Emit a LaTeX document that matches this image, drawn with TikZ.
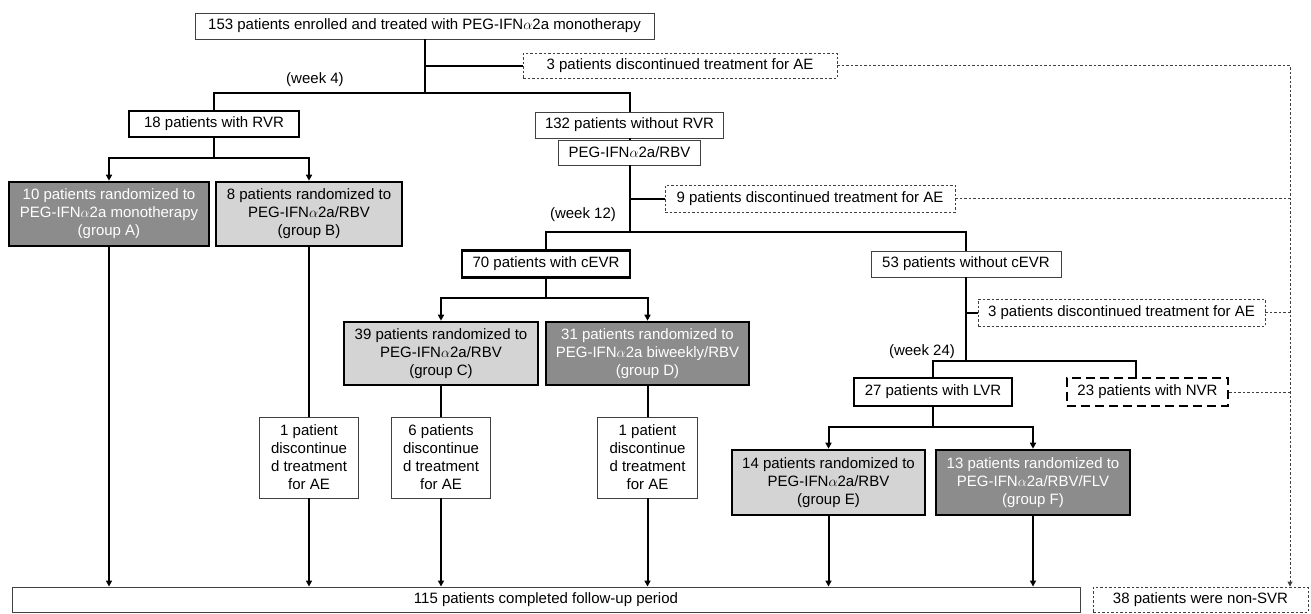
\documentclass[tikz,border=0pt]{standalone}
\usepackage{fontspec}
\setmainfont{Liberation Sans}
\usetikzlibrary{arrows.meta}
\definecolor{dkgray}{gray}{0.55}
\definecolor{ltgray}{gray}{0.83}
\definecolor{edgegray}{gray}{0.25}
\newcommand{\fsz}{\fontsize{15}{18}\selectfont}
\begin{document}
\begin{tikzpicture}[x=1pt,y=-1pt,
  sz/.style 2 args={minimum width=#1pt, minimum height=#2pt},
  box/.style={draw=edgegray, line width=0.9pt, inner sep=0pt, align=center, font=\fsz},
  thickbox/.style={box, draw=black, line width=2.6pt},
  dashbox/.style={box, dash pattern=on 2.5pt off 2pt},
  nvrbox/.style={box, draw=black, line width=2.6pt, dash pattern=on 9pt off 5pt},
  darkfill/.style={fill=dkgray, text=white},
  lightfill/.style={fill=ltgray},
  lbl/.style={inner sep=0pt, font=\fsz},
  conn/.style={draw=black, line width=2pt},
  dconn/.style={draw=edgegray, line width=0.9pt, dash pattern=on 2.5pt off 2pt},
  arr/.style={-{Triangle[length=6pt,width=6pt]}}
]
\useasboundingbox (0,0) rectangle (1311,613);

% nodes
\node[box, sz={459}{26}] (top) at (424.5,26) {153 patients enrolled and treated with PEG-IFN$\alpha$2a monotherapy};
\node[dashbox, sz={314}{25}] (ae1) at (680,65.5) {3 patients discontinued treatment for AE};
\node[lbl] (w4) at (315,80) {(week 4)};
\node[thickbox, sz={170}{26}] (r1) at (214,124) {18 patients with RVR};
\node[box, sz={188}{26}] (nr1) at (629.5,125) {132 patients without RVR};
\node[box, sz={142}{25}] (peg) at (629.5,152.5) {PEG-IFN$\alpha$2a/RBV};
\node[thickbox, darkfill, sz={200}{64}] (gA) at (109,214) {10 patients randomized to\\PEG-IFN$\alpha$2a monotherapy\\(group A)};
\node[thickbox, lightfill, sz={186}{64}] (gB) at (309,214) {8 patients randomized to\\PEG-IFN$\alpha$2a/RBV\\(group B)};
\node[dashbox, sz={290}{27}] (ae2) at (810,198.5) {9 patients discontinued treatment for AE};
\node[lbl] (w12) at (583,215) {(week 12)};
\node[thickbox, sz={168}{27}] (cevr) at (546,264) {70 patients with cEVR};
\node[box, sz={190}{26}] (ncevr) at (966,264) {53 patients without cEVR};
\node[thickbox, lightfill, sz={194}{63}] (gC) at (441,353.5) {39 patients randomized to\\PEG-IFN$\alpha$2a/RBV\\(group C)};
\node[thickbox, darkfill, sz={203}{63}] (gD) at (647.5,353.5) {31 patients randomized to\\PEG-IFN$\alpha$2a biweekly/RBV\\(group D)};
\node[dashbox, sz={287}{27}] (ae3) at (1121.5,312.5) {3 patients discontinued treatment for AE};
\node[lbl] (w24) at (922,352) {(week 24)};
\node[thickbox, sz={158}{28}] (lvr) at (933,392) {27 patients with LVR};
\node[nvrbox, sz={161}{28}] (nvr) at (1147.5,392) {23 patients with NVR};
\node[thickbox, lightfill, sz={193}{65}] (gE) at (828.5,482.5) {14 patients randomized to\\PEG-IFN$\alpha$2a/RBV\\(group E)};
\node[thickbox, darkfill, sz={194}{65}] (gF) at (1033,482.5) {13 patients randomized to\\PEG-IFN$\alpha$2a/RBV/FLV\\(group F)};
\node[box, sz={99}{81}] (d1) at (309,457.5) {1 patient\\discontinue\\d treatment\\for AE};
\node[box, sz={99}{81}] (d2) at (441,457.5) {6 patients\\discontinue\\d treatment\\for AE};
\node[box, sz={100}{81}] (d3) at (647.5,457.5) {1 patient\\discontinue\\d treatment\\for AE};
\node[box, sz={1068}{25}] (fu) at (546,599.5) {115 patients completed follow-up period};
\node[dashbox, sz={215}{25}] (nsvr) at (1200.5,599.5) {38 patients were non-SVR};

% helper coordinates
\coordinate (h1) at (424.5,93);
\coordinate (b1) at (424.5,65.5);
\coordinate (h2) at (629.5,232);
\coordinate (b2) at (629.5,198.5);
\coordinate (h3) at (214,158);
\coordinate (h5) at (546,298);
\coordinate (h4) at (966,361);
\coordinate (b3) at (966,312.5);
\coordinate (h6) at (933,427);
\coordinate (nvx) at (1136,0);
\coordinate (rx) at (1290,0);

% solid connectors
\draw[conn] (top.south) -- (h1);
\draw[conn] (b1) -- (ae1.west);
\draw[conn] (r1.north) |- (h1) -| (nr1.north);
\draw[conn] (nr1.south) -- (peg.north);
\draw[conn] (r1.south) -- (h3);
\draw[conn,arr] (h3) -| (gA.north);
\draw[conn,arr] (h3) -| (gB.north);
\draw[conn] (peg.south) -- (h2);
\draw[conn] (b2) -- (ae2.west);
\draw[conn] (cevr.north) |- (h2) -| (ncevr.north);
\draw[conn] (cevr.south) -- (h5);
\draw[conn,arr] (h5) -| (gC.north);
\draw[conn,arr] (h5) -| (gD.north);
\draw[conn] (ncevr.south) -- (h4);
\draw[conn] (b3) -- (ae3.west);
\draw[conn] (lvr.north) |- (h4) -| (nvr.north -| nvx);
\draw[conn] (lvr.south) -- (h6);
\draw[conn,arr] (h6) -| (gE.north);
\draw[conn,arr] (h6) -| (gF.north);
\draw[conn,arr] (gA.south) -- (gA.south |- fu.north);
\draw[conn] (gB.south) -- (d1.north);
\draw[conn,arr] (d1.south) -- (d1.south |- fu.north);
\draw[conn] (gC.south) -- (d2.north);
\draw[conn,arr] (d2.south) -- (d2.south |- fu.north);
\draw[conn] (gD.south) -- (d3.north);
\draw[conn,arr] (d3.south) -- (d3.south |- fu.north);
\draw[conn,arr] (gE.south) -- (gE.south |- fu.north);
\draw[conn,arr] (gF.south) -- (gF.south |- fu.north);

% dashed connectors
\draw[dconn, -{Triangle[length=5pt,width=5pt]}] (ae1.east) -| (nsvr.north -| rx);
\draw[dconn] (ae2.east) -- (ae2.east -| rx);
\draw[dconn] (ae3.east) -- (ae3.east -| rx);
\draw[dconn] (nvr.east) -- (nvr.east -| rx);
\end{tikzpicture}
\end{document}
